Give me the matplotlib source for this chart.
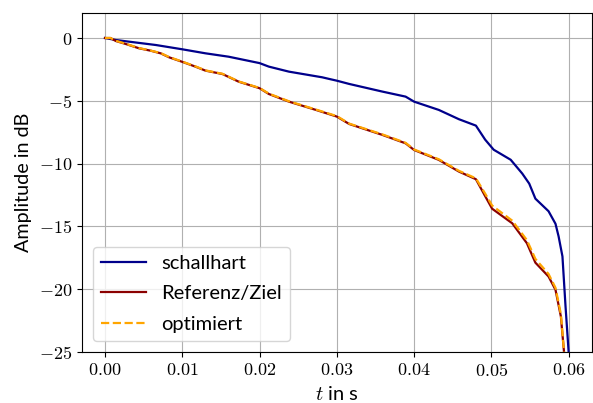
import matplotlib
matplotlib.use("Agg")
import matplotlib.pyplot as plt
import numpy as np

plt.rcParams['mathtext.fontset'] = 'cm'
plt.rcParams['font.family'] = ['Lato', 'DejaVu Sans']

# schallhart (blue)
t_blue = [0.0, 0.0014, 0.0066, 0.0100, 0.0130, 0.0160, 0.0200, 0.0212, 0.0238, 0.0281,
          0.0290, 0.0300, 0.0316, 0.0359, 0.0389, 0.0400, 0.0432, 0.0458, 0.0480, 0.0492,
          0.0503, 0.0525, 0.0540, 0.0549, 0.0557, 0.0574, 0.0583, 0.0587, 0.0592, 0.0596,
          0.0600, 0.0601]
a_blue = [0.0, -0.16, -0.56, -0.90, -1.22, -1.49, -2.00, -2.28, -2.68, -3.13,
          -3.26, -3.40, -3.66, -4.27, -4.67, -5.07, -5.73, -6.47, -6.98, -8.10,
          -8.90, -9.70, -10.8, -11.6, -12.8, -13.8, -14.8, -15.8, -17.4, -21.4,
          -25.0, -27.0]

# Referenz/Ziel (dark red)
t_ref = [0.0, 0.0007, 0.0014, 0.0027, 0.0044, 0.0059, 0.0072, 0.0083, 0.0100, 0.0117,
         0.0130, 0.0152, 0.0173, 0.0200, 0.0212, 0.0238, 0.0273, 0.0300, 0.0316, 0.0359,
         0.0389, 0.0400, 0.0432, 0.0458, 0.0480, 0.0492, 0.0501, 0.0527, 0.0546, 0.0557,
         0.0574, 0.0583, 0.0590, 0.0594, 0.0595]
a_ref = [0.0, 0.0, -0.24, -0.48, -0.82, -1.01, -1.22, -1.54, -1.90, -2.28,
         -2.60, -2.87, -3.48, -4.00, -4.46, -5.07, -5.73, -6.26, -6.85, -7.72,
         -8.39, -8.92, -9.71, -10.64, -11.25, -12.60, -13.60, -14.76, -16.35, -17.90,
         -19.00, -20.06, -22.20, -25.0, -27.0]

# optimiert (orange dashed)
t_opt = [0.0, 0.0007, 0.0014, 0.0027, 0.0044, 0.0059, 0.0072, 0.0083, 0.0100, 0.0117,
         0.0130, 0.0152, 0.0173, 0.0200, 0.0212, 0.0238, 0.0273, 0.0300, 0.0316, 0.0359,
         0.0389, 0.0400, 0.0432, 0.0458, 0.0480, 0.0492, 0.0501, 0.0527, 0.0546, 0.0557,
         0.0574, 0.0583, 0.0590, 0.0594, 0.0595]
a_opt = [0.0, 0.0, -0.22, -0.46, -0.80, -1.00, -1.20, -1.52, -1.88, -2.26,
         -2.58, -2.85, -3.46, -3.98, -4.43, -5.04, -5.70, -6.22, -6.82, -7.68,
         -8.35, -8.88, -9.66, -10.58, -11.18, -12.40, -13.35, -14.55, -16.10, -17.60,
         -18.80, -19.90, -22.00, -25.0, -27.0]

xticks = [0.00, 0.01, 0.02, 0.03, 0.04, 0.05, 0.06]
yticks = [0, -5, -10, -15, -20, -25]

fig = plt.figure(figsize=(5.93, 4.03), dpi=100)
ax = fig.add_axes([0.138, 0.127, 0.860, 0.841])
ax.plot(t_blue, a_blue, color='#00008B', lw=1.6, label='schallhart')
ax.plot(t_ref, a_ref, color='#8B0000', lw=1.6, label='Referenz/Ziel')
ax.plot(t_opt, a_opt, color='orange', lw=1.6, ls='--', label='optimiert')

ax.set_xlim(-0.003, 0.063)
ax.set_ylim(-25, 2)
ax.set_xticks(xticks)
ax.set_xticklabels([f'${v:.2f}$' for v in xticks])
ax.set_yticks(yticks)
ax.set_yticklabels([f'${v}$' for v in yticks])
ax.tick_params(labelsize=13)
ax.grid(True, color='#b0b0b0', lw=0.8)
ax.set_axisbelow(True)
ax.set_xlabel('$t$ in s', fontsize=14.5, labelpad=5)
ax.set_ylabel('Amplitude in dB', fontsize=14.2, labelpad=5)
ax.legend(loc='lower left', fontsize=14.5, framealpha=0.8, fancybox=True,
          handlelength=2.24, handletextpad=0.76, labelspacing=0.65,
          borderaxespad=0.55)

fig.savefig('out.png', dpi=100)
